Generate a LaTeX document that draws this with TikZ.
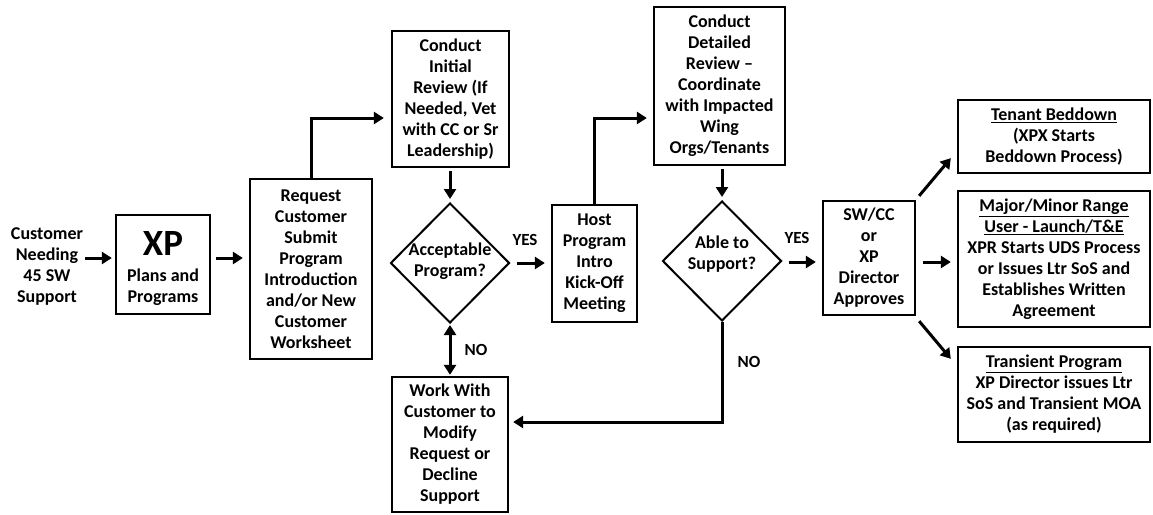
\documentclass[tikz,border=0pt]{standalone}
\usepackage{fontspec}
\setmainfont{Carlito}
\usetikzlibrary{arrows.meta,shapes.geometric,calc}
\newcommand{\txtfont}{\bfseries\fontsize{18}{21}\selectfont}
\begin{document}
\begin{tikzpicture}[x=1pt,y=-1pt,
  box/.style={draw, line width=2.3pt, align=center, inner sep=0pt, font=\txtfont},
  dia/.style={draw, diamond, line width=2pt, inner sep=0pt, minimum width=119pt, minimum height=120pt},
  txt/.style={align=center, inner sep=0pt, font=\txtfont},
  lbl/.style={inner sep=0pt, font=\bfseries\fontsize{17}{19}\selectfont},
  arr/.style={line width=3pt, -{Triangle[length=10pt,width=12pt]}},
  dbl/.style={line width=3pt, {Triangle[length=10pt,width=12pt]}-{Triangle[length=10pt,width=12pt]}}]
\useasboundingbox (0,0) rectangle (1153,514);

% row coordinates
\coordinate (rowA) at (0,258);
\coordinate (rowC) at (0,262);
\coordinate (rowT) at (0,118);
\coordinate (rowN) at (0,422);

% nodes
\node[txt] (cust) at (47,267) {Customer\\Needing\\45 SW\\Support};
\node[box, minimum width=94pt, minimum height=99pt] (xp) at (163,264.5) {};
\node[txt, font=\bfseries\fontsize{37}{38}\selectfont] (xpt) at (163,243) {XP};
\node[txt] (xps) at (163,287) {Plans and\\Programs};
\node[box, minimum width=122pt, minimum height=180pt] (req) at (311,269) {Request\\Customer\\Submit\\Program\\Introduction\\and/or New\\Customer\\Worksheet};
\node[box, minimum width=117pt, minimum height=136pt] (init) at (450.5,99) {Conduct\\Initial\\Review (If\\Needed, Vet\\with CC or Sr\\Leadership)};
\node[dia] (dia1) at (450,263) {};
\node[txt] (dia1t) at (450,261) {Acceptable\\Program?};
\node[box, minimum width=85pt, minimum height=117pt] (host) at (594.5,263.5) {Host\\Program\\Intro\\Kick-Off\\Meeting};
\node[box, minimum width=131pt, minimum height=158pt] (det) at (719.5,86) {Conduct\\Detailed\\Review --\\Coordinate\\with Impacted\\Wing\\Orgs/Tenants};
\node[dia] (dia2) at (722,261) {};
\node[txt] (dia2t) at (722,254) {Able to\\Support?};
\node[box, minimum width=92pt, minimum height=114pt] (sw) at (869,258) {SW/CC\\or\\XP\\Director\\Approves};
\node[box, minimum width=192pt, minimum height=73pt] (ten) at (1054,136.5) {\underline{Tenant Beddown}\\(XPX Starts\\Beddown Process)};
\node[box, minimum width=192pt, minimum height=136pt] (maj) at (1054,259) {\underline{Major/Minor Range}\\\underline{User - Launch/T\&E}\\XPR Starts UDS Process\\or Issues Ltr SoS and\\Establishes Written\\Agreement};
\node[box, minimum width=192pt, minimum height=95pt] (tra) at (1054,394.5) {\underline{Transient Program}\\XP Director issues Ltr\\SoS and Transient MOA\\(as required)};
\node[box, minimum width=116pt, minimum height=135pt] (work) at (450,444.5) {Work With\\Customer to\\Modify\\Request or\\Decline\\Support};

% labels
\node[lbl] (yes1) at (525,240) {YES};
\node[lbl] (yes2) at (797,238) {YES};
\node[lbl] (no1) at (476,350) {NO};
\node[lbl] (no2) at (749,362) {NO};

% connectors
\draw[arr, shorten <=2pt, shorten >=3pt] (cust.east |- rowA) -- (xp.west |- rowA);
\draw[arr, shorten <=5pt, shorten >=6pt] (xp.east |- rowA) -- (req.west |- rowA);
\draw[arr, shorten >=7pt] (req.north) |- (init.west |- rowT);
\draw[arr, shorten <=3pt, shorten >=3pt] (dia1.north |- init.south) -- (dia1.north);
\draw[arr, shorten <=6pt, shorten >=6pt] (dia1.east) -- (host.west |- dia1.east);
\draw[arr, shorten >=6pt] (host.north) |- (det.west |- rowT);
\draw[arr, shorten <=3pt, shorten >=3pt] (dia2.north |- det.south) -- (dia2.north);
\draw[arr, shorten <=6pt, shorten >=6pt] (dia2.east |- rowC) -- (sw.west |- rowC);
\draw[arr] ([shift={(3pt,4pt)}]sw.north east) -- ([shift={(-6pt,16pt)}]ten.south west);
\draw[arr, shorten <=7pt, shorten >=6pt] (sw.east |- rowC) -- (maj.west |- rowC);
\draw[arr] ([shift={(3pt,-5pt)}]sw.south east) -- ([shift={(-6pt,-13pt)}]tra.north west);
\draw[dbl, shorten <=1pt, shorten >=1pt] (dia1.south) -- (work.north);
\draw[arr, shorten >=4pt] (dia2.south) |- (work.east |- rowN);
\end{tikzpicture}
\end{document}
